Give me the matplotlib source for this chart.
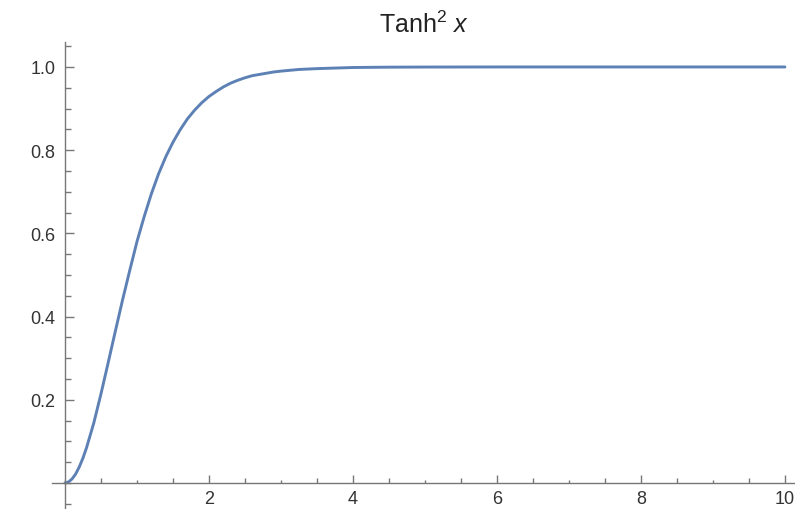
import matplotlib
matplotlib.use("Agg")
import matplotlib.pyplot as plt
from matplotlib.ticker import MultipleLocator, FixedLocator

plt.rcParams['font.family'] = ['Liberation Sans', 'DejaVu Sans']
plt.rcParams['mathtext.fontset'] = 'custom'
plt.rcParams['mathtext.rm'] = 'Liberation Sans'
plt.rcParams['mathtext.it'] = 'Liberation Sans:italic'

# curve samples, x and tanh^2 x
x_vals = [0.0, 0.05, 0.1, 0.15, 0.2, 0.25, 0.3, 0.4, 0.5, 0.6, 0.7, 0.8, 0.9,
          1.0, 1.1, 1.2, 1.3, 1.4, 1.5, 1.6, 1.7, 1.8, 1.9,
          2.0, 2.1, 2.2, 2.3, 2.4, 2.5, 2.6, 2.7, 2.8, 2.9,
          3.0, 3.25, 3.5, 4.0, 4.5, 5.0, 6.0, 7.0, 8.0, 9.0, 10.0]
y_vals = [0.000, 0.0025, 0.010, 0.022, 0.039, 0.060, 0.085, 0.144, 0.214, 0.289,
          0.365, 0.440, 0.511,
          0.580, 0.640, 0.695, 0.743, 0.784, 0.819, 0.849, 0.875, 0.896, 0.914,
          0.929, 0.941, 0.952, 0.961, 0.968, 0.974, 0.979, 0.982, 0.985, 0.988,
          0.990, 0.994, 0.996, 0.9987, 0.9995, 0.9998, 1.0, 1.0, 1.0, 1.0, 1.0]

x_ticks = [2, 4, 6, 8, 10]
y_ticks = [0.2, 0.4, 0.6, 0.8, 1.0]
y_ticklabels = ['0.2', '0.4', '0.6', '0.8', '1.0']

axis_color = '#777777'
label_color = '#333333'
line_color = '#5e81b5'

fig = plt.figure(figsize=(7.95, 5.10), dpi=100)
ax = fig.add_axes([52 / 795, 0, 743 / 795, 467 / 510])

ax.plot(x_vals, y_vals, color=line_color, lw=2.1,
        solid_capstyle='round', solid_joinstyle='round')

ax.set_xlim(-0.18, 10.14)
ax.set_ylim(-0.0625, 1.06)

# axes cross at the origin
for side in ('top', 'right'):
    ax.spines[side].set_visible(False)
ax.spines['left'].set_position(('data', 0))
ax.spines['bottom'].set_position(('data', 0))
for side in ('left', 'bottom'):
    ax.spines[side].set_color(axis_color)
    ax.spines[side].set_linewidth(1.0)

ax.xaxis.set_major_locator(FixedLocator(x_ticks))
ax.xaxis.set_minor_locator(MultipleLocator(0.5))
ax.set_xticklabels([str(t) for t in x_ticks])
ax.yaxis.set_major_locator(FixedLocator(y_ticks))
ax.yaxis.set_minor_locator(MultipleLocator(0.05))
ax.set_yticklabels(y_ticklabels)

ax.tick_params(which='both', direction='in', color=axis_color, width=1.0,
               labelcolor=label_color, labelsize=13)
ax.tick_params(axis='x', which='major', length=6, pad=5)
ax.tick_params(axis='x', which='minor', length=3.5)
ax.tick_params(axis='y', which='major', length=6.5, pad=7)
ax.tick_params(axis='y', which='minor', length=4)

# odd integer minor ticks on x are shorter
for loc, tick in zip(ax.xaxis.get_minorticklocs(), ax.xaxis.get_minor_ticks()):
    if abs(loc - round(loc)) < 1e-6:
        tick.tick1line.set_markersize(2)

ax.set_title(r'Tanh$^{2}$ $x$', fontsize=18, color='#222222', pad=7)

fig.savefig('out.png', dpi=100)
